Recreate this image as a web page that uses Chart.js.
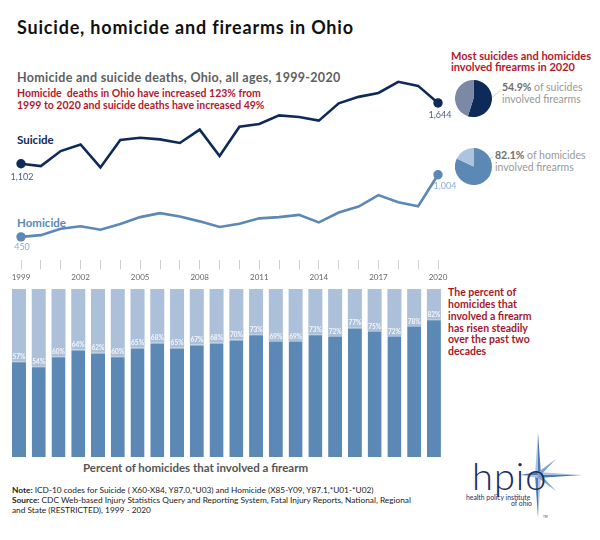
<!DOCTYPE html>
<html><head><meta charset="utf-8">
<script src="https://cdn.jsdelivr.net/npm/chart.js@4.4.1/dist/chart.umd.min.js"></script>
<style>
html,body{margin:0;padding:0;background:#fff;}
#wrap{position:relative;width:600px;height:540px;overflow:hidden;font-family:Lato,"Liberation Sans",sans-serif;background:#fff;}
.t{position:absolute;white-space:nowrap;line-height:1;transform:translateY(-50%);}
canvas{position:absolute;}
svg{position:absolute;left:0;top:0;}
</style></head><body>
<div id="wrap">
<svg width="600" height="540">
  <line x1="485" y1="103" x2="500" y2="91" stroke="#c4c4c4" stroke-width="0.8"/>
  <line x1="478" y1="165" x2="493" y2="157" stroke="#c4c4c4" stroke-width="0.8"/>
  <g>
    <polygon points="535,475 538,432 538,475" fill="#a9c3e3"/>
    <polygon points="538,475 538,432 541,475" fill="#4d7bb0"/>
    <polygon points="535,475 538,518 538,475" fill="#4d7bb0"/>
    <polygon points="538,475 538,518 541,475" fill="#a9c3e3"/>
    <polygon points="538,472 582,475 538,475" fill="#a9c3e3"/>
    <polygon points="538,475 582,475 538,478" fill="#4d7bb0"/>
    <polygon points="538,472 520,475 538,475" fill="#4d7bb0"/>
    <polygon points="538,475 520,475 538,478" fill="#a9c3e3"/>
    <polygon points="537,473 556,459 539,477" fill="#7fa2cf"/>
    <polygon points="537,477 556,491 539,473" fill="#7fa2cf"/>
  </g>
</svg>
<div class="t" style="left:17px;top:27px;font-size:18px;font-weight:700;color:#111;letter-spacing:0.8px">Suicide, homicide and firearms in Ohio</div>
<div class="t" style="left:17px;top:78px;font-size:12.5px;font-weight:700;color:#5e5e5e;letter-spacing:0.3px">Homicide and suicide deaths, Ohio, all ages, 1999-2020</div>
<div class="t" style="left:17px;top:93px;font-size:10.5px;font-weight:700;color:#b3192e">Homicide&nbsp; deaths in Ohio have increased 123% from</div>
<div class="t" style="left:17px;top:104.5px;font-size:10.5px;font-weight:700;color:#b3192e">1999 to 2020 and suicide deaths have increased 49%</div>
<div class="t" style="left:17px;top:140px;font-size:11.5px;font-weight:700;color:#0e2a58">Suicide</div>
<div class="t" style="left:17px;top:223px;font-size:11.5px;font-weight:700;color:#5b88b5">Homicide</div>
<div class="t" style="left:451px;top:54.5px;font-size:11px;font-weight:700;color:#b3192e">Most suicides and homicides</div>
<div class="t" style="left:451px;top:65.7px;font-size:11px;font-weight:700;color:#b3192e">involved firearms in 2020</div>
<div class="t" style="left:502px;top:87px;font-size:10.5px;color:#999"><b style="color:#6e6e6e">54.9%</b> of suicides</div>
<div class="t" style="left:502px;top:98.7px;font-size:10.5px;color:#999">involved firearms</div>
<div class="t" style="left:495px;top:154.7px;font-size:10.5px;color:#999"><b style="color:#6e6e6e">82.1%</b> of homicides</div>
<div class="t" style="left:495px;top:166.7px;font-size:10.5px;color:#999">involved firearms</div>
<div class="t" style="left:448px;top:293.3px;font-size:10.5px;font-weight:700;color:#a8182c;line-height:11.8px;transform:translateY(-6px);white-space:normal;width:110px">The percent of<br>homicides that<br>involved a firearm<br>has risen steadily<br>over the past two<br>decades</div>
<div class="t" style="left:83px;top:468px;font-size:11.5px;font-weight:700;color:#555">Percent of homicides that involved a firearm</div>
<div class="t" style="left:12px;top:490px;font-size:8.3px;color:#222"><b>Note:</b> ICD-10 codes for Suicide ( X60-X84, Y87.0,*U03) and Homicide (X85-Y09, Y87.1,*U01-*U02)</div>
<div class="t" style="left:12px;top:500px;font-size:8.3px;color:#222"><b>Source:</b> CDC Web-based Injury Statistics Query and Reporting System, Fatal Injury Reports, National, Regional</div>
<div class="t" style="left:12px;top:510px;font-size:8.3px;color:#222">and State (RESTRICTED), 1999 - 2020</div>
<div class="t" style="left:472px;top:475px;font-size:38px;font-weight:300;color:#1f2c63;letter-spacing:1px">hpio</div>
<div class="t" style="left:466px;top:497px;font-size:6.8px;color:#1f2c63">health policy institute</div>
<div class="t" style="left:511px;top:503px;font-size:6.8px;color:#1f2c63">of ohio</div>
<div class="t" style="left:543px;top:517px;font-size:3px;color:#1f2c63">TM</div>

<canvas id="lineC" width="470" height="235" style="left:0;top:50px"></canvas>
<canvas id="barC" width="450" height="168" style="left:0;top:289px"></canvas>
<canvas id="pieS" width="37" height="37" style="left:455px;top:80px"></canvas>
<canvas id="pieH" width="37" height="37" style="left:455px;top:147.5px"></canvas>
</div>
<script>
const years = ['1999','2000','2001','2002','2003','2004','2005','2006','2007','2008','2009','2010','2011','2012','2013','2014','2015','2016','2017','2018','2019','2020'];
const yearTickLabels = ['1999','2002','2005','2008','2011','2014','2017','2020'];
const suicideDeaths = [1102,1081,1215,1274,1069,1314,1334,1319,1287,1406,1171,1432,1456,1533,1519,1486,1640,1698,1733,1832,1796,1644];
const homicideDeaths = [450,465,523,544,514,564,626,661,632,588,538,567,615,626,646,579,667,720,822,758,723,1004];
const firearmHomicidePct = [57,54,60,64,62,60,65,68,65,67,68,70,73,69,69,73,72,77,75,72,78,82];
const suicideFirearmSplit = [54.9, 45.1];
const homicideFirearmSplit = [82.1, 17.9];

const NAVY = '#0e2a58', BLUE = '#5b88b5';

const endLabels = {
  id: 'endLabels',
  afterDatasetsDraw(chart, args, opts) {
    const ctx = chart.ctx;
    chart.data.datasets.forEach((ds, di) => {
      const meta = chart.getDatasetMeta(di);
      const last = ds.data.length - 1;
      const cfg = opts.sets[di];
      [0, last].forEach((i, k) => {
        const p = meta.data[i];
        ctx.save();
        ctx.font = '9px Lato, sans-serif';
        ctx.fillStyle = cfg.color;
        ctx.textAlign = 'center';
        ctx.textBaseline = 'middle';
        ctx.fillText(ds.data[i].toLocaleString('en-US'), p.x + cfg.off[k][0], p.y + cfg.off[k][1]);
        ctx.restore();
      });
    });
  }
};

const endRadius = c => (c.dataIndex === 0 || c.dataIndex === years.length - 1) ? 4.7 : 0;

new Chart(document.getElementById('lineC'), {
  type: 'line',
  data: {
    labels: years,
    datasets: [
      { data: suicideDeaths, borderColor: NAVY, backgroundColor: NAVY, borderWidth: 2.6, pointRadius: endRadius, pointBorderWidth: 0, pointBackgroundColor: NAVY, tension: 0, clip: false },
      { data: homicideDeaths, borderColor: BLUE, backgroundColor: BLUE, borderWidth: 2.6, pointRadius: endRadius, pointBorderWidth: 0, pointBackgroundColor: BLUE, tension: 0, clip: false }
    ]
  },
  options: {
    responsive: false, animation: false,
    layout: { padding: { left: 21, right: 32, top: 13, bottom: 0 } },
    plugins: {
      legend: { display: false }, tooltip: { enabled: false },
      endLabels: { sets: [
        { color: '#4b5f8a', off: [[1, 13], [2, 12]] },
        { color: '#8db0d6', off: [[1, 10], [7, 11]] }
      ] }
    },
    scales: {
      y: { display: false, min: 240, max: 2000 },
      x: {
        grid: { display: true, drawOnChartArea: false, drawTicks: true, tickLength: 9, color: '#cfcfcf' },
        border: { display: false },
        ticks: {
          autoSkip: false, maxRotation: 0, padding: 3, color: '#666',
          font: { size: 8, family: 'Lato, sans-serif' },
          callback: (v, i) => yearTickLabels.includes(years[i]) ? years[i] : ''
        }
      }
    }
  },
  plugins: [endLabels]
});

const barLabels = {
  id: 'barLabels',
  afterDatasetsDraw(chart) {
    const ctx = chart.ctx;
    const meta = chart.getDatasetMeta(0);
    meta.data.forEach((bar, i) => {
      ctx.save();
      ctx.font = 'bold 6.5px Lato, sans-serif';
      ctx.fillStyle = '#f4f7fb';
      ctx.textAlign = 'center';
      ctx.textBaseline = 'middle';
      ctx.fillText(firearmHomicidePct[i] + '%', bar.x, bar.y - 4.5);
      ctx.restore();
    });
  }
};

new Chart(document.getElementById('barC'), {
  type: 'bar',
  data: {
    labels: years,
    datasets: [
      { data: firearmHomicidePct, backgroundColor: BLUE, borderColor: '#9fb7d4', borderWidth: { top: 1, left: 0, right: 0, bottom: 0 }, borderSkipped: false },
      { data: firearmHomicidePct.map(v => 100 - v), backgroundColor: '#adc0da', borderWidth: 0 }
    ]
  },
  options: {
    responsive: false, animation: false,
    layout: { padding: { left: 9.1, right: 6.2, top: 0, bottom: 0 } },
    datasets: { bar: { categoryPercentage: 1, barPercentage: 0.71 } },
    plugins: { legend: { display: false }, tooltip: { enabled: false } },
    scales: {
      x: { display: false, stacked: true },
      y: { display: false, stacked: true, min: 0, max: 100 }
    }
  },
  plugins: [barLabels]
});

function pie(id, vals, colors) {
  new Chart(document.getElementById(id), {
    type: 'pie',
    data: { labels: ['Firearm', 'Other'], datasets: [{ data: vals, backgroundColor: colors, borderWidth: 0 }] },
    options: { responsive: false, animation: false, plugins: { legend: { display: false }, tooltip: { enabled: false } } }
  });
}
pie('pieS', suicideFirearmSplit, [NAVY, '#7b89a7']);
pie('pieH', homicideFirearmSplit, [BLUE, '#aec3dd']);
</script>
</body></html>
